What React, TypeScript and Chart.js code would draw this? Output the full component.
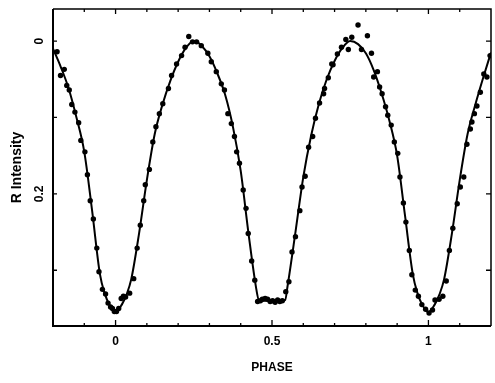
import React, { useEffect, useRef } from "react";
import { Chart, registerables } from "chart.js";

Chart.register(...registerables);

// Observed points (phase, R intensity)
const obsPhase = [
  -0.187, -0.176, -0.164, -0.156, -0.148, -0.14, -0.13, -0.118, -0.111, -0.098, -0.09, -0.081, -0.071, -0.06, -0.053,
  -0.042, -0.032, -0.024, -0.016, -0.01, -0.004, 0.003, 0.01, 0.018, 0.025, 0.032, 0.045, 0.058, 0.069, 0.079, 0.09,
  0.095, 0.108, 0.119, 0.129, 0.14, 0.151, 0.169, 0.179, 0.195, 0.211, 0.222, 0.234, 0.246, 0.259, 0.274, 0.295, 0.306,
  0.322, 0.338, 0.348, 0.359, 0.37, 0.38, 0.387, 0.396, 0.408, 0.417, 0.424, 0.435, 0.445, 0.454, 0.463, 0.469, 0.478,
  0.486, 0.494, 0.502, 0.51, 0.518, 0.525, 0.533, 0.544, 0.554, 0.564, 0.575, 0.589, 0.596, 0.606, 0.617, 0.63, 0.639,
  0.652, 0.665, 0.668, 0.68, 0.691, 0.695, 0.709, 0.722, 0.736, 0.744, 0.755, 0.775, 0.786, 0.805, 0.818, 0.825, 0.837,
  0.844, 0.852, 0.863, 0.87, 0.881, 0.891, 0.902, 0.909, 0.92, 0.928, 0.939, 0.947, 0.958, 0.968, 0.979, 0.991, 1.002,
  1.013, 1.021, 1.034, 1.046, 1.057, 1.067, 1.078, 1.092, 1.102, 1.113, 1.123, 1.134, 1.139, 1.147, 1.155, 1.166, 1.177,
  1.187, 1.197,
];
const obsIntensity = [
  0.014, 0.045, 0.037, 0.058, 0.064, 0.083, 0.093, 0.107, 0.13, 0.145, 0.175, 0.209, 0.233, 0.271, 0.302,
  0.325, 0.331, 0.343, 0.348, 0.35, 0.354, 0.354, 0.35, 0.337, 0.334, 0.335, 0.33, 0.311, 0.271, 0.241, 0.209,
  0.188, 0.168, 0.132, 0.112, 0.095, 0.082, 0.062, 0.045, 0.03, 0.019, 0.008, -0.006, 0.001, 0.001, 0.006, 0.016, 0.027,
  0.04, 0.056, 0.064, 0.095, 0.108, 0.125, 0.145, 0.16, 0.195, 0.219, 0.252, 0.288, 0.313, 0.341, 0.34, 0.338, 0.337,
  0.338, 0.341, 0.34, 0.342, 0.339, 0.341, 0.34, 0.328, 0.315, 0.276, 0.256, 0.222, 0.191, 0.177, 0.139, 0.125, 0.101,
  0.081, 0.069, 0.062, 0.048, 0.03, 0.031, 0.017, 0.008, -0.002, 0.011, -0.005, -0.021, 0.011, -0.007, 0.016, 0.047, 0.04,
  0.06, 0.069, 0.086, 0.097, 0.11, 0.132, 0.147, 0.178, 0.212, 0.237, 0.274, 0.306, 0.326, 0.334, 0.345, 0.351, 0.356,
  0.352, 0.339, 0.338, 0.334, 0.314, 0.274, 0.245, 0.213, 0.191, 0.178, 0.135, 0.115, 0.106, 0.095, 0.085, 0.067, 0.043,
  0.047, 0.019,
];

// Fitted light curve
const fitPhase = [
  -0.2, -0.175, -0.15, -0.125, -0.1, -0.075, -0.05, -0.035, -0.02, 0, 0.02, 0.035, 0.05, 0.075, 0.1, 0.125, 0.15, 0.175,
  0.2, 0.225, 0.25, 0.275, 0.3, 0.325, 0.35, 0.375, 0.4, 0.425, 0.45, 0.458, 0.475, 0.5, 0.525, 0.542, 0.55, 0.575, 0.6,
  0.625, 0.65, 0.675, 0.7, 0.725, 0.75, 0.775, 0.8, 0.825, 0.85, 0.875, 0.9, 0.925, 0.95, 0.965, 0.98, 1.0, 1.02, 1.035,
  1.05, 1.075, 1.1, 1.125, 1.15, 1.175, 1.2,
];
const fitIntensity = [
  0.01, 0.034, 0.062, 0.1, 0.145, 0.222, 0.305, 0.33, 0.345, 0.355, 0.345, 0.332, 0.312, 0.252, 0.182, 0.122, 0.083, 0.052,
  0.027, 0.009, 0.0, 0.006, 0.02, 0.042, 0.07, 0.112, 0.17, 0.252, 0.325, 0.339, 0.34, 0.34, 0.34, 0.339, 0.32, 0.25, 0.178,
  0.124, 0.082, 0.05, 0.026, 0.009, 0.0, 0.004, 0.016, 0.038, 0.068, 0.104, 0.15, 0.228, 0.305, 0.33, 0.345, 0.355, 0.345,
  0.332, 0.312, 0.252, 0.182, 0.122, 0.083, 0.048, 0.015,
];

const xTickLabels = [0, 0.5, 1];
const xMinorTicks = [-0.1, 0, 0.1, 0.2, 0.3, 0.4, 0.5, 0.6, 0.7, 0.8, 0.9, 1, 1.1];
const xMajorTicks = [0, 0.5, 1];
const yTicks = [0, 0.1, 0.2, 0.3];
const yTickLabels = [0, 0.2];

const FONT = "'Liberation Sans', Arial, sans-serif";

const framePlugin = {
  id: "frame",
  afterDraw(chart: any) {
    const { ctx, chartArea: a, scales } = chart;
    const xs = scales.x;
    const ys = scales.y;
    ctx.save();
    ctx.strokeStyle = "#000";
    ctx.lineWidth = 1.5;
    ctx.beginPath();
    ctx.moveTo(a.left, a.top);
    ctx.lineTo(a.right, a.top);
    ctx.lineTo(a.right, a.bottom);
    ctx.stroke();
    ctx.lineWidth = 2;
    ctx.beginPath();
    ctx.moveTo(a.left, a.top);
    ctx.lineTo(a.left, a.bottom);
    ctx.lineTo(a.right, a.bottom);
    ctx.stroke();
    ctx.lineWidth = 1.3;
    ctx.beginPath();
    for (const v of xMinorTicks) {
      const px = xs.getPixelForValue(v);
      const major = xMajorTicks.includes(v);
      const len = major ? 6 : 3;
      ctx.moveTo(px, a.bottom);
      ctx.lineTo(px, a.bottom - len);
      ctx.moveTo(px, a.top);
      ctx.lineTo(px, a.top + (major ? 5 : 3));
    }
    for (const v of yTicks) {
      const py = ys.getPixelForValue(v);
      ctx.moveTo(a.left, py);
      ctx.lineTo(a.left + 4, py);
      ctx.moveTo(a.right, py);
      ctx.lineTo(a.right - 5, py);
    }
    ctx.stroke();
    ctx.fillStyle = "#000";
    ctx.font = `bold 12px ${FONT}`;
    ctx.textAlign = "center";
    ctx.textBaseline = "middle";
    for (const v of yTickLabels) {
      const py = ys.getPixelForValue(v);
      ctx.save();
      ctx.translate(40, py);
      ctx.rotate(-Math.PI / 2);
      ctx.fillText(String(v), 0, 0);
      ctx.restore();
    }
    ctx.restore();
  },
};

export default function App() {
  const ref = useRef<HTMLCanvasElement>(null);
  useEffect(() => {
    if (!ref.current) return;
    const obs = obsPhase.map((p, i) => ({ x: p, y: obsIntensity[i] }));
    const fit = fitPhase.map((p, i) => ({ x: p, y: fitIntensity[i] }));
    const chart = new Chart(ref.current, {
      type: "scatter",
      data: {
        datasets: [
          {
            label: "Fit",
            data: fit,
            showLine: true,
            borderColor: "#000",
            borderWidth: 2,
            pointRadius: 0,
            cubicInterpolationMode: "monotone",
            order: 2,
          } as any,
          {
            label: "Observed",
            data: obs,
            backgroundColor: "#000",
            borderColor: "#000",
            pointRadius: 2.7,
            borderWidth: 0,
            order: 1,
          },
        ],
      },
      options: {
        responsive: false,
        animation: false,
        layout: { padding: { top: 9, right: 1, left: 0, bottom: 0 } },
        plugins: { legend: { display: false }, tooltip: { enabled: false } },
        scales: {
          x: {
            type: "linear",
            min: -0.2,
            max: 1.2,
            grid: { display: false, drawTicks: false },
            border: { display: false },
            afterBuildTicks: (s: any) => {
              s.ticks = xTickLabels.map((v) => ({ value: v }));
            },
            afterFit: (s: any) => {
              s.height = 57;
            },
            ticks: {
              color: "#000",
              font: { family: FONT, size: 12, weight: "bold" },
              padding: 8,
              maxRotation: 0,
              callback: (v: any) => String(v),
            },
            title: {
              display: true,
              text: "PHASE",
              color: "#000",
              font: { family: FONT, size: 12, weight: "bold" },
              padding: { top: 0, bottom: 8 },
            },
          },
          y: {
            type: "linear",
            reverse: true,
            min: -0.042,
            max: 0.373,
            grid: { display: false, drawTicks: false },
            border: { display: false },
            ticks: { display: false },
            afterFit: (s: any) => {
              s.width = 53;
            },
            title: {
              display: true,
              text: "R Intensity",
              color: "#000",
              font: { family: FONT, size: 14, weight: "bold" },
              padding: { top: 9, bottom: 0 },
            },
          },
        },
      },
      plugins: [framePlugin],
    });
    return () => chart.destroy();
  }, []);
  return (
    <div style={{ position: "absolute", left: 0, top: 0, width: 495, height: 383, background: "#fff" }}>
      <canvas ref={ref} width={495} height={383} style={{ display: "block" }} />
    </div>
  );
}
